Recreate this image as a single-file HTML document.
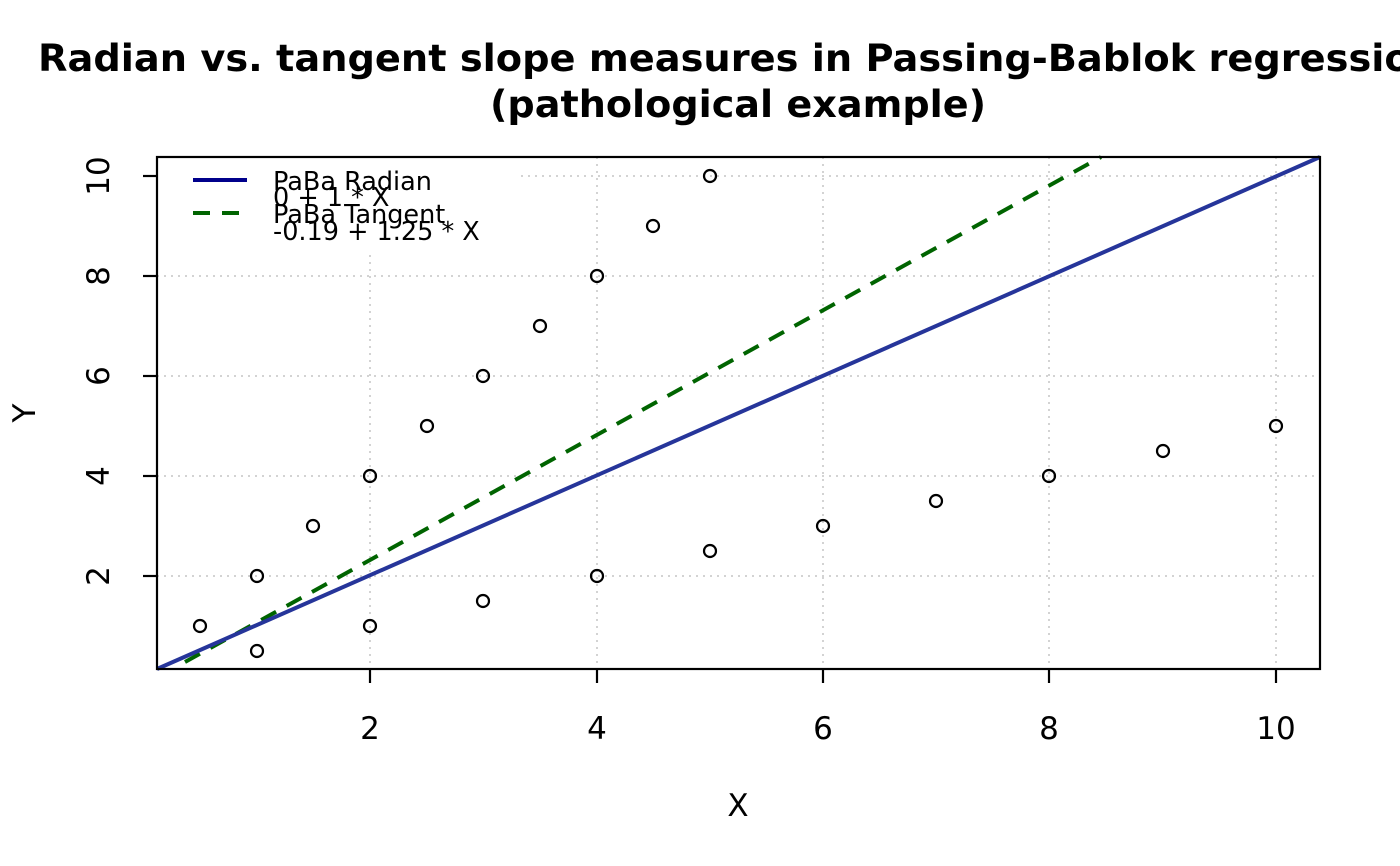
<!DOCTYPE html>
<html><head><meta charset="utf-8"><style>body{margin:0;background:#fff}svg{display:block}</style></head><body>
<svg width="1400" height="866" viewBox="0 0 1400 866" xmlns="http://www.w3.org/2000/svg" font-family="DejaVu Sans, Liberation Sans, sans-serif">
<rect width="1400" height="866" fill="#fff"/>
<text x="738" y="71" font-size="37" font-weight="bold" text-anchor="middle" textLength="1400" lengthAdjust="spacingAndGlyphs">Radian vs. tangent slope measures in Passing-Bablok regression</text>
<text x="738" y="117" font-size="37" font-weight="bold" text-anchor="middle" textLength="496" lengthAdjust="spacingAndGlyphs">(pathological example)</text>
<g stroke="#d3d3d3" stroke-width="2" stroke-dasharray="2,5">
<line x1="370" y1="157" x2="370" y2="669"/><line x1="597" y1="157" x2="597" y2="669"/><line x1="823" y1="157" x2="823" y2="669"/><line x1="1049" y1="157" x2="1049" y2="669"/><line x1="1276" y1="157" x2="1276" y2="669"/>
<line x1="157" y1="576" x2="1320" y2="576"/><line x1="157" y1="476" x2="1320" y2="476"/><line x1="157" y1="376" x2="1320" y2="376"/><line x1="157" y1="276" x2="1320" y2="276"/><line x1="157" y1="176" x2="1320" y2="176"/>
</g>
<rect x="158" y="158" width="358" height="94" fill="#fff"/>
<g fill="none" stroke="#000" stroke-width="2.2">
<circle cx="200" cy="626" r="6"/><circle cx="257" cy="576" r="6"/><circle cx="313" cy="526" r="6"/><circle cx="370" cy="476" r="6"/><circle cx="427" cy="426" r="6"/><circle cx="483" cy="376" r="6"/><circle cx="540" cy="326" r="6"/><circle cx="597" cy="276" r="6"/><circle cx="653" cy="226" r="6"/><circle cx="710" cy="176" r="6"/>
<circle cx="257" cy="651" r="6"/><circle cx="370" cy="626" r="6"/><circle cx="483" cy="601" r="6"/><circle cx="597" cy="576" r="6"/><circle cx="710" cy="551" r="6"/><circle cx="823" cy="526" r="6"/><circle cx="936" cy="501" r="6"/><circle cx="1049" cy="476" r="6"/><circle cx="1163" cy="451" r="6"/><circle cx="1276" cy="426" r="6"/>
</g>
<line x1="185" y1="662" x2="1101" y2="157" stroke="#006400" stroke-width="4" stroke-dasharray="17,12"/>
<line x1="157" y1="669" x2="1320" y2="157" stroke="#26359a" stroke-width="4"/>
<line x1="193" y1="180" x2="247" y2="180" stroke="#00008b" stroke-width="4"/>
<line x1="193" y1="213" x2="247" y2="213" stroke="#006400" stroke-width="4" stroke-dasharray="17,12"/>
<g font-size="25.5">
<text x="273" y="190">PaBa Radian</text>
<text x="273" y="206">0 + 1 * X</text>
<text x="273" y="223">PaBa Tangent</text>
<text x="273" y="240">-0.19 + 1.25 * X</text>
</g>
<rect x="157" y="157" width="1163" height="512" fill="none" stroke="#000" stroke-width="2.2"/>
<g stroke="#000" stroke-width="2.2">
<line x1="370" y1="669" x2="370" y2="683"/><line x1="597" y1="669" x2="597" y2="683"/><line x1="823" y1="669" x2="823" y2="683"/><line x1="1049" y1="669" x2="1049" y2="683"/><line x1="1276" y1="669" x2="1276" y2="683"/>
<line x1="143" y1="576" x2="157" y2="576"/><line x1="143" y1="476" x2="157" y2="476"/><line x1="143" y1="376" x2="157" y2="376"/><line x1="143" y1="276" x2="157" y2="276"/><line x1="143" y1="176" x2="157" y2="176"/>
</g>
<g font-size="31" text-anchor="middle">
<text x="370" y="739">2</text><text x="597" y="739">4</text><text x="823" y="739">6</text><text x="1049" y="739">8</text><text x="1276" y="739">10</text>
<text transform="translate(109,576) rotate(-90)">2</text>
<text transform="translate(109,476) rotate(-90)">4</text>
<text transform="translate(109,376) rotate(-90)">6</text>
<text transform="translate(109,276) rotate(-90)">8</text>
<text transform="translate(109,176) rotate(-90)">10</text>
<text x="738" y="816">X</text>
<text transform="translate(35,413) rotate(-90)">Y</text>
</g>
</svg>
</body></html>
